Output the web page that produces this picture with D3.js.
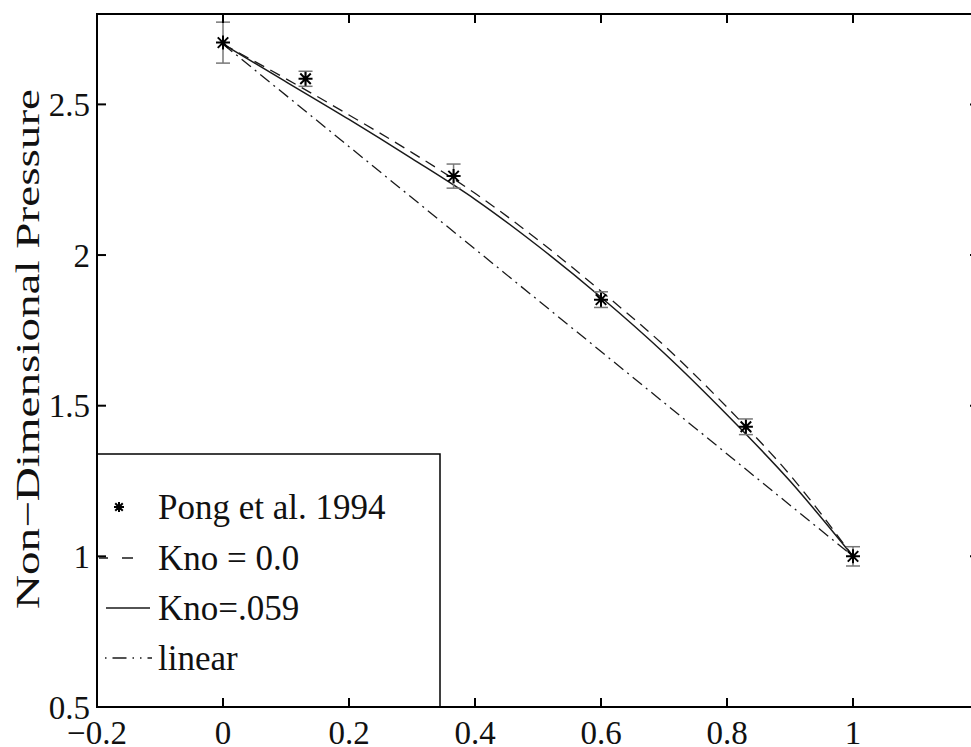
<!DOCTYPE html>
<html>
<head>
<meta charset="utf-8">
<script src="https://cdn.jsdelivr.net/npm/d3@7"></script>
<style>
  html, body { margin: 0; padding: 0; background: #fff; }
  svg { display: block; }
  text { font-family: "Liberation Serif", "Times New Roman", serif; fill: #111; }
</style>
</head>
<body>
<svg id="chart" width="971" height="747"></svg>
<script>
// --- datos ---
const pongX   = [0, 0.131, 0.366, 0.60, 0.83, 1.0];
const pongY   = [2.705, 2.585, 2.262, 1.852, 1.430, 1.0];
const pongErr = [0.068, 0.025, 0.040, 0.026, 0.026, 0.032];

const curveX   = [0, 0.1, 0.2, 0.3, 0.4, 0.5, 0.6, 0.7, 0.8, 0.9, 1.0];
const kno0Y    = [2.70, 2.585, 2.465, 2.34, 2.205, 2.05, 1.88, 1.70, 1.495, 1.27, 1.0];
const kno059Y  = [2.70, 2.575, 2.45, 2.32, 2.185, 2.03, 1.86, 1.675, 1.47, 1.25, 1.0];
const linearX  = [0, 1];
const linearY  = [2.70, 1.0];

const xTicks = [-0.2, 0, 0.2, 0.4, 0.6, 0.8, 1];
const yTicks = [0.5, 1, 1.5, 2, 2.5];
const legendLabels = ["Pong et al. 1994", "Kno = 0.0", "Kno=.059", "linear"];
const yLabel = "Non\u2212Dimensional Pressure";

// --- layout ---
const mLeft = 97, mRight = 979, mTop = 14, mBottom = 707;
const svg = d3.select("#chart");

const x = d3.scaleLinear().domain([-0.2, 1.2]).range([mLeft, mRight]);
const y = d3.scaleLinear().domain([0.5, 2.8]).range([mBottom, mTop]);

const ink = "#1a1a1a";
const line = d3.line().x(d => x(d[0])).y(d => y(d[1])).curve(d3.curveMonotoneX);

// curvas
svg.append("path")
  .datum(linearX.map((v, i) => [v, linearY[i]]))
  .attr("d", d3.line().x(d => x(d[0])).y(d => y(d[1])))
  .attr("fill", "none").attr("stroke", ink).attr("stroke-width", 1.3)
  .attr("stroke-dasharray", "12,5,2,5");

svg.append("path")
  .datum(curveX.map((v, i) => [v, kno0Y[i]]))
  .attr("d", line)
  .attr("fill", "none").attr("stroke", ink).attr("stroke-width", 1.3)
  .attr("stroke-dasharray", "11,7");

svg.append("path")
  .datum(curveX.map((v, i) => [v, kno059Y[i]]))
  .attr("d", line)
  .attr("fill", "none").attr("stroke", ink).attr("stroke-width", 1.5);

// barras de error
const eb = svg.append("g").attr("stroke", "#777").attr("stroke-width", 1.5);
pongX.forEach((v, i) => {
  const cx = x(v), y0 = y(pongY[i] - pongErr[i]), y1 = y(pongY[i] + pongErr[i]);
  eb.append("line").attr("x1", cx).attr("x2", cx).attr("y1", y0).attr("y2", y1);
  eb.append("line").attr("x1", cx - 7).attr("x2", cx + 7).attr("y1", y0).attr("y2", y0);
  eb.append("line").attr("x1", cx - 7).attr("x2", cx + 7).attr("y1", y1).attr("y2", y1);
});

// marcadores asterisco
function asterisk(g, cx, cy, r) {
  const s = r * 0.75;
  g.append("path")
    .attr("d", `M${cx - r},${cy}H${cx + r}M${cx},${cy - r}V${cy + r}` +
               `M${cx - s},${cy - s}L${cx + s},${cy + s}M${cx - s},${cy + s}L${cx + s},${cy - s}`)
    .attr("stroke", "#000").attr("stroke-width", 2).attr("fill", "none");
}
const mk = svg.append("g");
pongX.forEach((v, i) => asterisk(mk, x(v), y(pongY[i]), 7));

// leyenda
const lg = svg.append("g");
lg.append("rect").attr("x", mLeft).attr("y", 454).attr("width", 343).attr("height", mBottom - 454)
  .attr("fill", "#fff").attr("stroke", "#000").attr("stroke-width", 1.5);
const rowY = [507, 558, 608, 658];
legendLabels.forEach((t, i) => {
  lg.append("text").attr("x", 158).attr("y", rowY[i]).attr("dy", "0.35em")
    .attr("font-size", 35).text(t);
});
asterisk(lg, 119, rowY[0], 5);
lg.append("line").attr("x1", 99).attr("x2", 145).attr("y1", rowY[1]).attr("y2", rowY[1])
  .attr("stroke", ink).attr("stroke-width", 1.4).attr("stroke-dasharray", "11,14").attr("stroke-dashoffset", 2);
lg.append("line").attr("x1", 106).attr("x2", 150).attr("y1", rowY[2]).attr("y2", rowY[2])
  .attr("stroke", ink).attr("stroke-width", 1.5);
lg.append("line").attr("x1", 105).attr("x2", 152).attr("y1", rowY[3]).attr("y2", rowY[3])
  .attr("stroke", ink).attr("stroke-width", 1.4).attr("stroke-dasharray", "1.5,6,14,6,1.5,6");

// marco y ticks (cuatro lados, hacia dentro)
const axG = svg.append("g").attr("stroke", "#000").attr("stroke-width", 2).attr("fill", "none");
axG.append("rect").attr("x", mLeft).attr("y", mTop).attr("width", mRight - mLeft).attr("height", mBottom - mTop);
xTicks.forEach(v => {
  axG.append("line").attr("x1", x(v)).attr("x2", x(v)).attr("y1", mBottom).attr("y2", mBottom - 9);
  axG.append("line").attr("x1", x(v)).attr("x2", x(v)).attr("y1", mTop).attr("y2", mTop + 9);
});
yTicks.forEach(v => {
  axG.append("line").attr("x1", mLeft).attr("x2", mLeft + 9).attr("y1", y(v)).attr("y2", y(v));
  axG.append("line").attr("x1", mRight).attr("x2", mRight - 9).attr("y1", y(v)).attr("y2", y(v));
});

// etiquetas de ticks
const fmt = v => (v < 0 ? "\u2212" : "") + String(Math.abs(v));
svg.append("g").selectAll("text").data(xTicks).join("text")
  .attr("x", d => x(d)).attr("y", 744).attr("text-anchor", "middle")
  .attr("font-size", 33).text(fmt);
svg.append("g").selectAll("text").data(yTicks).join("text")
  .attr("x", 90).attr("y", d => y(d)).attr("dy", "0.35em").attr("text-anchor", "end")
  .attr("font-size", 33).text(fmt);

// etiqueta eje y
svg.append("text")
  .attr("transform", `translate(39,349) rotate(-90)`)
  .attr("text-anchor", "middle").attr("font-size", 34)
  .attr("textLength", 520).attr("lengthAdjust", "spacingAndGlyphs")
  .text(yLabel);
</script>
</body>
</html>
